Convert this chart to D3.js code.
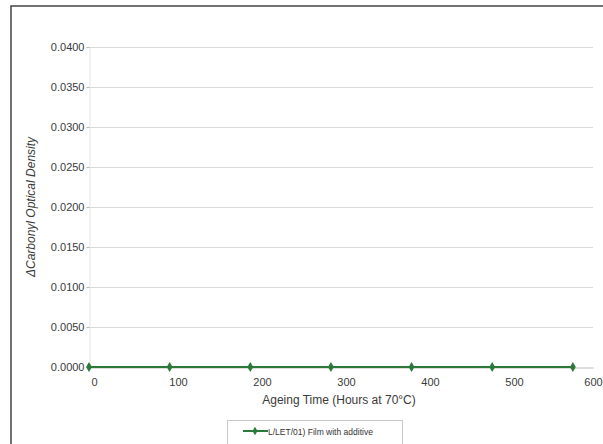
<!DOCTYPE html>
<html>
<head>
<meta charset="utf-8">
<script src="https://cdn.jsdelivr.net/npm/d3@7/dist/d3.min.js"></script>
<style>
  html, body { margin: 0; padding: 0; background: #fff; }
  svg { display: block; }
</style>
</head>
<body>
<svg id="chart" width="603" height="444"></svg>
<script>
// ---- data ----
const hours = [0, 96, 192, 288, 384, 480, 576];
const deltaCarbonyl = [0, 0, 0, 0, 0, 0, 0];
const seriesName = "L/LET/01) Film with additive";
const yTicks = [0, 0.005, 0.01, 0.015, 0.02, 0.025, 0.03, 0.035, 0.04];
const xTicks = [0, 100, 200, 300, 400, 500, 600];
const xTitle = "Ageing Time (Hours at 70°C)";
const yTitle = "ΔCarbonyl Optical Density";

const svg = d3.select("#chart");
const green = "#2b7a3b";
const font = "'Liberation Sans', Arial, sans-serif";

// outer frame
svg.append("rect").attr("x", 11).attr("y", 6).attr("width", 620).attr("height", 460)
  .attr("fill", "none").attr("stroke", "#444").attr("stroke-width", 1.5);

const x = d3.scaleLinear().domain([0, 600]).range([89, 593]);
const y = d3.scaleLinear().domain([0, 0.04]).range([367, 47]);

// gridlines
svg.append("g").selectAll("line").data(yTicks.filter(d => d > 0)).join("line")
  .attr("x1", x(0)).attr("x2", x(600))
  .attr("y1", d => y(d) + 0.5).attr("y2", d => y(d) + 0.5)
  .attr("stroke", "#d9d9d9").attr("stroke-width", 1);

// y axis
const yAxis = svg.append("g").attr("transform", `translate(${x(0) + 0.5},0)`)
  .call(d3.axisLeft(y).tickValues(yTicks).tickFormat(d3.format(".4f")).tickSize(3).tickPadding(2));
yAxis.select(".domain").attr("stroke", "#e3e3e3");
yAxis.selectAll(".tick line").attr("stroke", "#bbb");
yAxis.selectAll("text").attr("font-family", font).attr("font-size", 11).attr("fill", "#3a3a3a");

// x axis
const xAxis = svg.append("g").attr("transform", `translate(0,${y(0) + 0.5})`)
  .call(d3.axisBottom(x).tickValues(xTicks).tickSize(0).tickPadding(11));
xAxis.select(".domain").attr("stroke", "#bbb");
xAxis.selectAll("text").attr("font-family", font).attr("font-size", 11).attr("fill", "#3a3a3a")
  .attr("dx", d => d === 600 ? 0 : 5);

// axis titles
svg.append("text").attr("x", 339).attr("y", 404).attr("text-anchor", "middle")
  .attr("font-family", font).attr("font-size", 12).attr("fill", "#3a3a3a").text(xTitle);
svg.append("text").attr("transform", "translate(35,207) rotate(-90)").attr("text-anchor", "middle")
  .attr("font-family", font).attr("font-size", 12).attr("font-style", "italic")
  .attr("fill", "#3a3a3a").text(yTitle);

// series
const data = hours.map((h, i) => ({ h, v: deltaCarbonyl[i] }));
svg.append("path").datum(data)
  .attr("d", d3.line().x(d => x(d.h)).y(d => y(d.v)))
  .attr("fill", "none").attr("stroke", green).attr("stroke-width", 2.2);
svg.append("g").selectAll("path").data(data).join("path")
  .attr("transform", d => `translate(${x(d.h)},${y(d.v)})`)
  .attr("d", d3.symbol(d3.symbolDiamond, 30))
  .attr("fill", green);

// legend
const lg = svg.append("g");
lg.append("rect").attr("x", 227.5).attr("y", 420.5).attr("width", 175).attr("height", 30)
  .attr("fill", "#fff").attr("stroke", "#c8c8c8");
lg.append("line").attr("x1", 243).attr("x2", 268).attr("y1", 431).attr("y2", 431)
  .attr("stroke", green).attr("stroke-width", 2);
lg.append("path").attr("transform", "translate(255,431)")
  .attr("d", d3.symbol(d3.symbolDiamond, 22)).attr("fill", green);
lg.append("text").attr("x", 268).attr("y", 434.5)
  .attr("font-family", font).attr("font-size", 8.5).attr("fill", "#333").text(seriesName);
</script>
</body>
</html>
